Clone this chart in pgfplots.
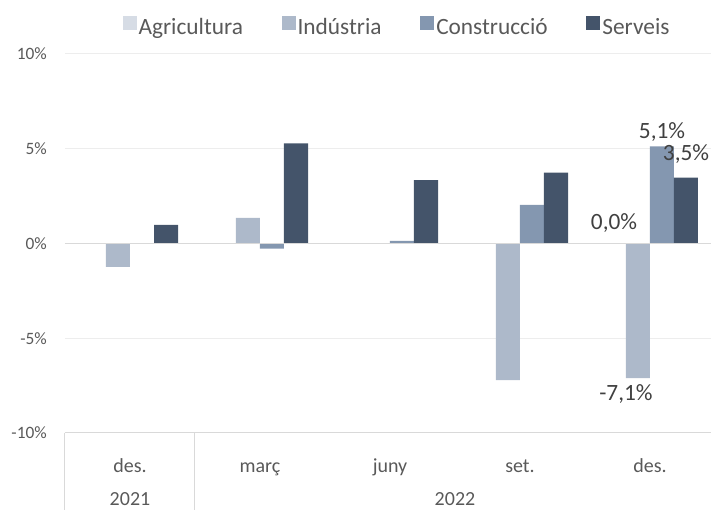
\documentclass[border=0pt]{standalone}
\usepackage{fontspec}
\setmainfont{Carlito}
\usepackage{pgfplots}
\pgfplotsset{compat=1.18}

\definecolor{cAgr}{HTML}{D6DCE5}
\definecolor{cInd}{HTML}{ADB9CA}
\definecolor{cCon}{HTML}{8497B0}
\definecolor{cSer}{HTML}{44546A}
\definecolor{cTxt}{HTML}{595959}
\definecolor{cLab}{HTML}{404040}
\definecolor{cGrid}{HTML}{EDEDED}
\definecolor{cZero}{HTML}{D9D9D9}

\pgfplotsset{
  legsq/.style={legend image code/.code={\fill[##1] (0pt,-2.5pt) rectangle (10.5pt,8pt);}},
}

\begin{document}
\begin{tikzpicture}
\useasboundingbox (0pt,0pt) rectangle (533.25pt,382.5pt);
\begin{axis}[
    at={(48.75pt,57.75pt)}, anchor=south west,
    scale only axis,
    width=487.5pt, height=284.25pt,
    ybar=0pt, bar width=18pt,
    xmin=-0.5, xmax=4.5,
    ymin=-10, ymax=10,
    xtick={0,1,2,3,4},
    xticklabels={des.,març,juny,set.,des.},
    ytick={-10,-5,0,5,10},
    yticklabels={-10\%,-5\%,0\%,5\%,10\%},
    axis line style={draw=none},
    tick style={draw=none},
    ymajorgrids,
    grid style={color=cGrid, line width=0.75pt},
    clip=false,
    xticklabel style={font=\fontsize{15}{18}\selectfont, text=cTxt, anchor=base, yshift=-25.3pt},
    yticklabel style={font=\fontsize{13}{15}\selectfont, text=cTxt, anchor=east, inner sep=0pt, xshift=-13.5pt},
    legend columns=4,
    legend style={at={(0.5108,1.0712)}, anchor=center, draw=none, fill=none,
      font=\fontsize{17.5}{20}\selectfont, text=cTxt,
      nodes={inner sep=1.5pt},
      /tikz/every even column/.append style={column sep=27.5pt}},
    nodes near coords={\pgfplotspointmeta},
    point meta=explicit symbolic,
    every node near coord/.append style={font=\fontsize{17.5}{20}\selectfont, text=cLab},
]
% Agricultura
\addplot[fill=cAgr, draw=none, legsq,
  every node near coord/.append style={anchor=south, yshift=4.5pt}]
  coordinates {(4,0) [0,0\%]};
\addlegendentry{Agricultura}
% Industria
\addplot[fill=cInd, draw=none, legsq,
  every node near coord/.append style={anchor=north, yshift=-1pt, xshift=-9pt}]
  coordinates {(0,-1.24) [{}] (1,1.35) [{}] (3,-7.21) [{}] (4,-7.10) [-7,1\%]};
\addlegendentry{Indústria}
% Construccio
\addplot[fill=cCon, draw=none, legsq]
  coordinates {(1,-0.27) [{}] (2,0.14) [{}] (3,2.04) [{}] (4,5.12) [5,1\%]};
\addlegendentry{Construcció}
% Serveis
\addplot[fill=cSer, draw=none, legsq,
  every node near coord/.append style={yshift=7pt}]
  coordinates {(0,0.98) [{}] (1,5.28) [{}] (2,3.35) [{}] (3,3.74) [{}] (4,3.47) [3,5\%]};
\addlegendentry{Serveis}

\draw[cZero, line width=1pt] (axis cs:-0.5,0) -- (axis cs:4.5,0);
\draw[cZero, line width=0.75pt] (axis cs:-0.5,-10) -- (axis cs:4.5,-10);
\draw[cZero, line width=0.75pt] (axis cs:-0.5,-10) -- ++(0pt,-60pt);
\draw[cZero, line width=0.75pt] (axis cs:0.5,-10) -- ++(0pt,-60pt);
\node[anchor=base, font=\fontsize{15}{18}\selectfont, text=cTxt] at ([yshift=-54.5pt]axis cs:0,-10) {2021};
\node[anchor=base, font=\fontsize{15}{18}\selectfont, text=cTxt] at ([yshift=-54.5pt]axis cs:2.5,-10) {2022};
\end{axis}
\end{tikzpicture}
\end{document}
